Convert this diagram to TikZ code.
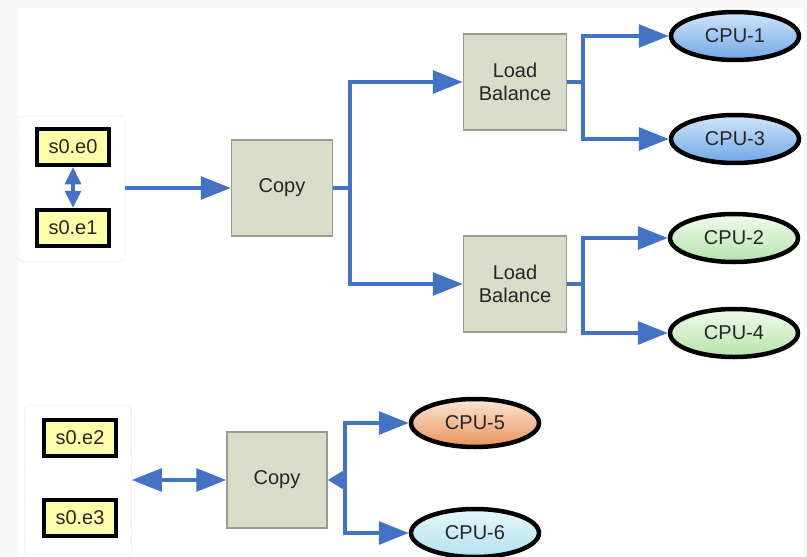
\documentclass[tikz,border=0pt]{standalone}
\usepackage{fontspec}
\setmainfont{Liberation Sans}
\usetikzlibrary{shapes.geometric,arrows.meta}

\definecolor{boxfill}{HTML}{D8DCC8}
\definecolor{boxline}{HTML}{9A9A8E}
\definecolor{eventfill}{HTML}{FFFFAA}
\definecolor{linkblue}{HTML}{4472C4}
\definecolor{pagegray}{HTML}{F7F7F7}
\definecolor{bluetop}{HTML}{D2E6FB}
\definecolor{bluebot}{HTML}{6FA6E6}
\definecolor{greentop}{HTML}{F0FBEC}
\definecolor{greenbot}{HTML}{B4E3A9}
\definecolor{orangetop}{HTML}{FCE6D3}
\definecolor{orangebot}{HTML}{E8925C}
\definecolor{cyantop}{HTML}{E6F7FC}
\definecolor{cyanbot}{HTML}{B2E0EF}

\begin{document}
\begin{tikzpicture}[x=1pt, y=-1pt,
		every node/.style={font=\fontsize{20}{23}\selectfont, text=black!85},
		op node/.style={rectangle, draw=boxline, line width=1.5pt, fill=boxfill,
			minimum width=101pt, minimum height=96pt, align=center, inner sep=2pt},
		event node/.style={rectangle, draw=black, line width=4.5pt, fill=eventfill,
			minimum width=72pt, minimum height=36pt, inner sep=1pt},
		group node/.style={rectangle, rounded corners=4pt, draw=black!12, densely dotted,
			line width=0.8pt, fill=white},
		cpu node/.style={ellipse, draw=black, line width=4.5pt,
			minimum width=128pt, minimum height=48pt, inner sep=1pt},
		link/.style={draw=linkblue, line width=3.2pt,
			-{Triangle[length=30pt,width=23pt]}},
		dlink/.style={draw=linkblue, line width=3.2pt,
			{Triangle[length=30pt,width=23pt]}-{Triangle[length=30pt,width=23pt]}}]

	% page
	\fill[pagegray] (0,0) rectangle (807,557);
	\fill[white] (18,8) rectangle (804,557);
	\useasboundingbox (0,0) rectangle (807,557);

	% event groups
	\node[group node, minimum width=106pt, minimum height=146pt] (g1) at (72,189) {};
	\node[group node, minimum width=107pt, minimum height=150pt] (g2) at (78,480) {};

	\node[event node] (e0) at (73,147) {s0.e0};
	\node[event node] (e1) at (73,228) {s0.e1};
	\node[event node] (e2) at (80,438) {s0.e2};
	\node[event node] (e3) at (80,518) {s0.e3};

	% operators
	\node[op node] (copy1) at (282,188) {Copy};
	\node[op node, minimum width=103pt] (lb1) at (515,82) {Load\\Balance};
	\node[op node, minimum width=103pt] (lb2) at (515,284) {Load\\Balance};
	\node[op node, minimum width=100pt] (copy2) at (277,480) {Copy};

	% cpus
	\node[cpu node, top color=bluetop, bottom color=bluebot] (cpu1) at (735,36) {CPU-1};
	\node[cpu node, top color=bluetop, bottom color=bluebot] (cpu3) at (735,139) {CPU-3};
	\node[cpu node, top color=greentop, bottom color=greenbot] (cpu2) at (734,238) {CPU-2};
	\node[cpu node, top color=greentop, bottom color=greenbot] (cpu4) at (734,333) {CPU-4};
	\node[cpu node, top color=orangetop, bottom color=orangebot] (cpu5) at (475,423) {CPU-5};
	\node[cpu node, top color=cyantop, bottom color=cyanbot] (cpu6) at (475,533) {CPU-6};

	\coordinate (split1) at (350,188);
	\coordinate (split2) at (583,82);
	\coordinate (split3) at (583,284);
	\coordinate (split4) at (345,480);

	% connectors
	\draw[dlink, {Triangle[length=17pt,width=16pt]}-{Triangle[length=17pt,width=16pt]}] (e0) -- (e1);
	\draw[link] (g1.east |- copy1.west) -- (copy1.west);
	\draw[draw=linkblue, line width=3.2pt] (copy1.east) -- (split1);
	\draw[link] (split1) |- (lb1.west);
	\draw[link] (split1) |- (lb2.west);
	\draw[draw=linkblue, line width=3.2pt] (lb1.east) -- (split2);
	\draw[link] (split2) |- (cpu1.west);
	\draw[link] (split2) |- (cpu3.west);
	\draw[draw=linkblue, line width=3.2pt] (lb2.east) -- (split3);
	\draw[link] (split3) |- (cpu2.west);
	\draw[link] (split3) |- (cpu4.west);

	\draw[dlink] (g2.east) -- (copy2.west);
	\draw[link, -{Triangle[length=19pt,width=22pt]}] (split4) -- (copy2.east);
	\draw[link] (split4) |- (cpu5.west);
	\draw[link] (split4) |- (cpu6.west);

\end{tikzpicture}
\end{document}
